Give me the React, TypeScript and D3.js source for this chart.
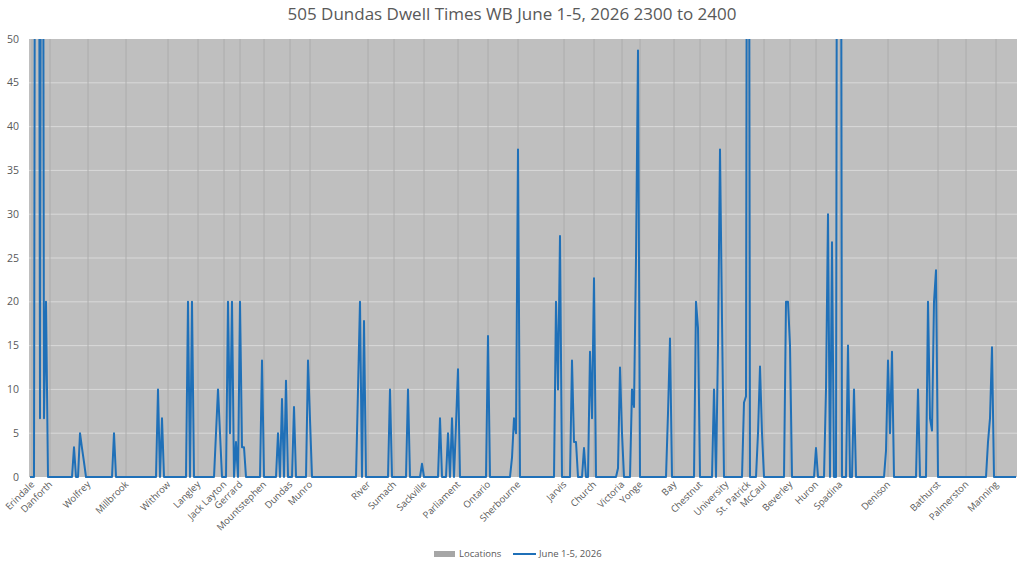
import { useMemo } from 'react';
import * as d3 from 'd3';

const W = 1024;
const H = 563;
const plot = { left: 29, right: 1017, top: 39, bottom: 477 };

const title = '505 Dundas Dwell Times WB June 1-5, 2026 2300 to 2400';
const seriesNames = ['Locations', 'June 1-5, 2026'];

// stop names and the category each one sits on
const locations = [
  'Erindale', 'Danforth', 'Wolfrey', 'Millbrook', 'Withrow', 'Langley', 'Jack Layton',
  'Gerrard', 'Mountstephen', 'Dundas', 'Munro', 'River', 'Sumach', 'Sackville',
  'Parliament', 'Ontario', 'Sherbourne', 'Jarvis', 'Church', 'Victoria', 'Yonge',
  'Bay', 'Chestnut', 'University', 'St. Patrick', 'McCaul', 'Beverley', 'Huron',
  'Spadina', 'Denison', 'Bathurst', 'Palmerston', 'Manning',
];
const locationIndex = [
  1, 10, 29, 48, 69, 84, 97, 105, 117, 130, 140, 169, 182, 197, 214, 229, 244,
  267, 282, 296, 305, 322, 335, 348, 359, 367, 380, 393, 405, 429, 454, 468, 483,
];

// dwell time per sample point (values above 50 run off the top of the chart)
const dwell = [
  0, 0, 0, 150, 150, 6.7, 150, 6.7, 20, 0, 0, 0, 0, 0, 0, 0, 0, 0, 0, 0,
  0, 0, 3.4, 0, 0, 5, 3.3, 1.7, 0, 0, 0, 0, 0, 0, 0, 0, 0, 0, 0, 0,
  0, 0, 5, 0, 0, 0, 0, 0, 0, 0, 0, 0, 0, 0, 0, 0, 0, 0, 0, 0,
  0, 0, 0, 0, 10, 0, 6.7, 0, 0, 0, 0, 0, 0, 0, 0, 0, 0, 0, 0, 20,
  0, 20, 0, 0, 0, 0, 0, 0, 0, 0, 0, 0, 0, 5, 10, 5, 0, 0, 0, 20,
  5, 20, 0, 4, 0, 20, 3.4, 3.4, 0, 0, 0, 0, 0, 0, 0, 0, 13.3, 0, 0, 0,
  0, 0, 0, 0, 5, 0, 8.9, 0, 11, 0, 0, 0, 8, 0, 0, 0, 0, 0, 0, 13.3,
  6.6, 0, 0, 0, 0, 0, 0, 0, 0, 0, 0, 0, 0, 0, 0, 0, 0, 0, 0, 0,
  0, 0, 0, 0, 10, 20, 0, 17.8, 0, 0, 0, 0, 0, 0, 0, 0, 0, 0, 0, 0,
  10, 0, 0, 0, 0, 0, 0, 0, 0, 10, 0, 0, 0, 0, 0, 0, 1.5, 0, 0, 0,
  0, 0, 0, 0, 0, 6.7, 0, 0, 0, 5, 0, 6.7, 0, 6, 12.3, 0, 0, 0, 0, 0,
  0, 0, 0, 0, 0, 0, 0, 0, 0, 16.1, 0, 0, 0, 0, 0, 0, 0, 0, 0, 0,
  0, 2.2, 6.7, 5, 37.4, 0, 0, 0, 0, 0, 0, 0, 0, 0, 0, 0, 0, 0, 0, 0,
  0, 0, 0, 20, 10, 27.5, 0, 0, 0, 0, 0, 13.3, 4, 4, 0, 0, 0, 3.3, 0, 0,
  14.3, 6.7, 22.7, 0, 0, 0, 0, 0, 0, 0, 0, 0, 0, 0, 1, 12.5, 5, 0, 0, 0,
  0, 10, 8, 25, 48.7, 0, 0, 0, 0, 0, 0, 0, 0, 0, 0, 0, 0, 0, 0, 7.3,
  15.8, 0, 0, 0, 0, 0, 0, 0, 0, 0, 0, 0, 0, 20, 17, 0, 0, 0, 0, 0,
  0, 0, 10, 0, 15, 37.4, 18, 0, 0, 0, 0, 0, 0, 0, 0, 0, 0, 8.5, 9.2, 150,
  0, 0, 0, 0, 5, 12.6, 5, 0, 0, 0, 0, 0, 0, 0, 0, 0, 0, 0, 20, 20,
  15, 0, 0, 0, 0, 0, 0, 0, 0, 0, 0, 0, 0, 3.3, 0, 0, 0, 0, 10, 30,
  0, 26.8, 0, 0, 150, 150, 0, 0, 0, 15, 0, 0, 10, 0, 0, 0, 0, 0, 0, 0,
  0, 0, 0, 0, 0, 0, 0, 0, 3, 13.3, 5, 14.3, 0, 0, 0, 0, 0, 0, 0, 0,
  0, 0, 0, 0, 10, 0, 0, 0, 0, 20, 6.7, 5.3, 20, 23.6, 0, 0, 0, 0, 0, 0,
  0, 0, 0, 0, 0, 0, 0, 0, 0, 0, 0, 0, 0, 0, 0, 0, 0, 0, 0, 4,
  6.7, 14.8, 0, 0, 0, 0, 0, 0, 0, 0, 0, 0, 0, 0,
];

const yTicks = [0, 5, 10, 15, 20, 25, 30, 35, 40, 45, 50];

const FONT = '"Open Sans", "Liberation Sans", sans-serif';
const TEXT = '#595959';
const PLOT_BG = '#bfbfbf';
const LINE = '#1f70b8';

export default function App() {
  const x = useMemo(
    () => d3.scaleBand<number>().domain(d3.range(dwell.length)).range([plot.left, plot.right]).padding(0),
    []
  );
  const y = useMemo(() => d3.scaleLinear().domain([0, 50]).range([plot.bottom, plot.top]), []);
  const cx = (i: number) => (x(i) ?? 0) + x.bandwidth() / 2;

  const path = d3.line<number>()
    .x((_, i) => cx(i))
    .y(d => y(d))(dwell) ?? '';

  return (
    <svg width={W} height={H} style={{ position: 'absolute', left: 0, top: 0, background: '#fff' }}>
      <defs>
        <clipPath id="plotClip">
          <rect x={plot.left} y={plot.top} width={plot.right - plot.left} height={plot.bottom - plot.top + 2} />
        </clipPath>
      </defs>

      <text x={W / 2} y={20} textAnchor="middle" fontFamily={FONT} fontSize={17} fill={TEXT}>
        {title}
      </text>

      {/* Locations series: grey columns */}
      <rect x={plot.left} y={y(50)} width={plot.right - plot.left} height={y(0) - y(50)} fill={PLOT_BG} />

      {/* horizontal gridlines */}
      {yTicks.filter(t => t > 0 && t < 50).map(t => (
        <line key={t} x1={plot.left} x2={plot.right} y1={y(t)} y2={y(t)} stroke="#d9d9d9" strokeWidth={1} />
      ))}

      {/* location boundaries */}
      {locationIndex.map((li, k) => (
        <line key={k} x1={cx(li)} x2={cx(li)} y1={plot.top} y2={plot.bottom} stroke="#acacac" strokeWidth={1} />
      ))}

      <path d={path} fill="none" stroke={LINE} strokeWidth={2} strokeLinejoin="round" clipPath="url(#plotClip)" />

      {yTicks.map(t => (
        <text key={t} x={19} y={y(t)} dy="0.35em" textAnchor="end" fontFamily={FONT} fontSize={10.5} fill={TEXT}>
          {t}
        </text>
      ))}

      {locations.map((name, k) => {
        const px = cx(locationIndex[k]) + 3;
        return (
          <text
            key={name}
            transform={`translate(${px},${plot.bottom + 8}) rotate(-45)`}
            textAnchor="end"
            fontFamily={FONT}
            fontSize={9.5}
            fill={TEXT}
          >
            {name}
          </text>
        );
      })}

      {/* legend */}
      <g fontFamily={FONT} fontSize={9.5} fill={TEXT}>
        <rect x={434} y={551} width={21} height={6} fill="#a6a6a6" />
        <text x={459} y={557}>{seriesNames[0]}</text>
        <line x1={513} x2={536} y1={554} y2={554} stroke={LINE} strokeWidth={2} />
        <text x={539} y={557}>{seriesNames[1]}</text>
      </g>
    </svg>
  );
}
